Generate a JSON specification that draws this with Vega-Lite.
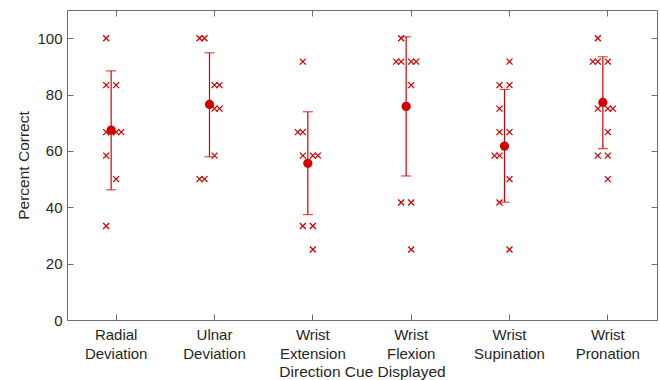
{
  "$schema": "https://vega.github.io/schema/vega-lite/v6.json",
  "width": 590,
  "height": 310,
  "autosize": {"type": "none"},
  "padding": {"left": 67, "top": 10, "right": 3, "bottom": 60},
  "config": {
    "font": "Liberation Sans",
    "view": {"stroke": null},
    "axis": {
      "domainColor": "#6e6e6e",
      "tickColor": "#6e6e6e",
      "labelColor": "#262626",
      "titleColor": "#262626",
      "labelFontSize": 15,
      "titleFontSize": 15.5,
      "titleFontWeight": "normal",
      "grid": false
    }
  },
  "datasets": {
    "pts": [
      {"cue": "Radial Deviation", "pct": 100, "j": -1},
      {"cue": "Radial Deviation", "pct": 83.33, "j": -1},
      {"cue": "Radial Deviation", "pct": 83.33, "j": 1},
      {"cue": "Radial Deviation", "pct": 66.67, "j": -1},
      {"cue": "Radial Deviation", "pct": 66.67, "j": 0},
      {"cue": "Radial Deviation", "pct": 66.67, "j": 1},
      {"cue": "Radial Deviation", "pct": 66.67, "j": 2},
      {"cue": "Radial Deviation", "pct": 58.33, "j": -1},
      {"cue": "Radial Deviation", "pct": 50, "j": 1},
      {"cue": "Radial Deviation", "pct": 33.33, "j": -1},
      {"cue": "Ulnar Deviation", "pct": 100, "j": -2},
      {"cue": "Ulnar Deviation", "pct": 100, "j": -1},
      {"cue": "Ulnar Deviation", "pct": 83.33, "j": 1},
      {"cue": "Ulnar Deviation", "pct": 83.33, "j": 2},
      {"cue": "Ulnar Deviation", "pct": 75, "j": 1},
      {"cue": "Ulnar Deviation", "pct": 75, "j": 2},
      {"cue": "Ulnar Deviation", "pct": 58.33, "j": 1},
      {"cue": "Ulnar Deviation", "pct": 50, "j": -2},
      {"cue": "Ulnar Deviation", "pct": 50, "j": -1},
      {"cue": "Wrist Extension", "pct": 91.67, "j": -1},
      {"cue": "Wrist Extension", "pct": 66.67, "j": -2},
      {"cue": "Wrist Extension", "pct": 66.67, "j": -1},
      {"cue": "Wrist Extension", "pct": 58.33, "j": -1},
      {"cue": "Wrist Extension", "pct": 58.33, "j": 1},
      {"cue": "Wrist Extension", "pct": 58.33, "j": 2},
      {"cue": "Wrist Extension", "pct": 33.33, "j": -1},
      {"cue": "Wrist Extension", "pct": 33.33, "j": 1},
      {"cue": "Wrist Extension", "pct": 25, "j": 1},
      {"cue": "Wrist Flexion", "pct": 100, "j": -1},
      {"cue": "Wrist Flexion", "pct": 91.67, "j": -2},
      {"cue": "Wrist Flexion", "pct": 91.67, "j": -1},
      {"cue": "Wrist Flexion", "pct": 91.67, "j": 1},
      {"cue": "Wrist Flexion", "pct": 91.67, "j": 2},
      {"cue": "Wrist Flexion", "pct": 83.33, "j": 1},
      {"cue": "Wrist Flexion", "pct": 41.67, "j": -1},
      {"cue": "Wrist Flexion", "pct": 41.67, "j": 1},
      {"cue": "Wrist Flexion", "pct": 25, "j": 1},
      {"cue": "Wrist Supination", "pct": 91.67, "j": 1},
      {"cue": "Wrist Supination", "pct": 83.33, "j": -1},
      {"cue": "Wrist Supination", "pct": 83.33, "j": 1},
      {"cue": "Wrist Supination", "pct": 75, "j": -1},
      {"cue": "Wrist Supination", "pct": 66.67, "j": -1},
      {"cue": "Wrist Supination", "pct": 66.67, "j": 1},
      {"cue": "Wrist Supination", "pct": 58.33, "j": -2},
      {"cue": "Wrist Supination", "pct": 58.33, "j": -1},
      {"cue": "Wrist Supination", "pct": 50, "j": 1},
      {"cue": "Wrist Supination", "pct": 41.67, "j": -1},
      {"cue": "Wrist Supination", "pct": 25, "j": 1},
      {"cue": "Wrist Pronation", "pct": 100, "j": -1},
      {"cue": "Wrist Pronation", "pct": 91.67, "j": -2},
      {"cue": "Wrist Pronation", "pct": 91.67, "j": -1},
      {"cue": "Wrist Pronation", "pct": 91.67, "j": 1},
      {"cue": "Wrist Pronation", "pct": 75, "j": -1},
      {"cue": "Wrist Pronation", "pct": 75, "j": 1},
      {"cue": "Wrist Pronation", "pct": 75, "j": 2},
      {"cue": "Wrist Pronation", "pct": 66.67, "j": 1},
      {"cue": "Wrist Pronation", "pct": 58.33, "j": -1},
      {"cue": "Wrist Pronation", "pct": 58.33, "j": 1},
      {"cue": "Wrist Pronation", "pct": 50, "j": 1}
    ],
    "summary": [
      {"cue": "Radial Deviation", "mean": 67.4, "lo": 46.2, "hi": 88.4, "j": 0},
      {"cue": "Ulnar Deviation", "mean": 76.5, "lo": 57.9, "hi": 94.8, "j": 0},
      {"cue": "Wrist Extension", "mean": 55.6, "lo": 37.4, "hi": 73.9, "j": 0},
      {"cue": "Wrist Flexion", "mean": 75.8, "lo": 51.1, "hi": 100.5, "j": 0},
      {"cue": "Wrist Supination", "mean": 61.7, "lo": 41.8, "hi": 81.8, "j": 0},
      {"cue": "Wrist Pronation", "mean": 77.2, "lo": 60.8, "hi": 93.4, "j": 0}
    ]
  },
  "resolve": {"axis": {"x": "independent", "y": "independent"}},
  "layer": [
    {
      "data": {"name": "pts"},
      "mark": {"type": "point", "shape": "M-1,-1L1,1M1,-1L-1,1", "filled": false, "strokeWidth": 1.3, "size": 36, "color": "#d10000", "opacity": 1},
      "encoding": {
        "x": {"field": "cue", "type": "nominal",
          "scale": {"type": "band", "domain": ["Radial Deviation", "Ulnar Deviation", "Wrist Extension", "Wrist Flexion", "Wrist Supination", "Wrist Pronation"], "paddingInner": 0, "paddingOuter": 0},
          "axis": {"orient": "bottom", "title": "Direction Cue Displayed", "labelExpr": "split(datum.label, ' ')", "labelAngle": 0, "tickSize": -6, "labelPadding": 13, "labelLineHeight": 19, "titlePadding": 3}},
        "xOffset": {"field": "j", "type": "quantitative", "scale": {"domain": [-8.83, 10.83], "range": [0, 98.33]}},
        "y": {"field": "pct", "type": "quantitative", "scale": {"domain": [0, 110], "nice": false},
          "axis": {"orient": "left", "title": "Percent Correct", "values": [0, 20, 40, 60, 80, 100], "tickSize": -6, "labelPadding": 11, "titlePadding": 5}}
      }
    },
    {
      "data": {"name": "summary"},
      "mark": {"type": "rule", "color": "#d10000", "strokeWidth": 1.2},
      "encoding": {
        "x": {"field": "cue", "type": "nominal", "axis": null,
          "scale": {"type": "band", "domain": ["Radial Deviation", "Ulnar Deviation", "Wrist Extension", "Wrist Flexion", "Wrist Supination", "Wrist Pronation"], "paddingInner": 0, "paddingOuter": 0}},
        "xOffset": {"field": "j", "type": "quantitative", "scale": {"domain": [-8.83, 10.83], "range": [0, 98.33]}},
        "y": {"field": "lo", "type": "quantitative", "axis": null},
        "y2": {"field": "hi"}
      }
    },
    {
      "data": {"name": "summary"},
      "mark": {"type": "tick", "color": "#d10000", "thickness": 1.2, "size": 10, "orient": "horizontal"},
      "encoding": {
        "x": {"field": "cue", "type": "nominal", "axis": null,
          "scale": {"type": "band", "domain": ["Radial Deviation", "Ulnar Deviation", "Wrist Extension", "Wrist Flexion", "Wrist Supination", "Wrist Pronation"], "paddingInner": 0, "paddingOuter": 0}},
        "xOffset": {"field": "j", "type": "quantitative", "scale": {"domain": [-8.83, 10.83], "range": [0, 98.33]}},
        "y": {"field": "lo", "type": "quantitative", "axis": null}
      }
    },
    {
      "data": {"name": "summary"},
      "mark": {"type": "tick", "color": "#d10000", "thickness": 1.2, "size": 10, "orient": "horizontal"},
      "encoding": {
        "x": {"field": "cue", "type": "nominal", "axis": null,
          "scale": {"type": "band", "domain": ["Radial Deviation", "Ulnar Deviation", "Wrist Extension", "Wrist Flexion", "Wrist Supination", "Wrist Pronation"], "paddingInner": 0, "paddingOuter": 0}},
        "xOffset": {"field": "j", "type": "quantitative", "scale": {"domain": [-8.83, 10.83], "range": [0, 98.33]}},
        "y": {"field": "hi", "type": "quantitative", "axis": null}
      }
    },
    {
      "data": {"name": "summary"},
      "mark": {"type": "circle", "color": "#d10000", "size": 85, "opacity": 1},
      "encoding": {
        "x": {"field": "cue", "type": "nominal",
          "scale": {"type": "band", "domain": ["Radial Deviation", "Ulnar Deviation", "Wrist Extension", "Wrist Flexion", "Wrist Supination", "Wrist Pronation"], "paddingInner": 0, "paddingOuter": 0},
          "axis": {"orient": "top", "title": null, "labels": false, "tickSize": -6}},
        "xOffset": {"field": "j", "type": "quantitative", "scale": {"domain": [-8.83, 10.83], "range": [0, 98.33]}},
        "y": {"field": "mean", "type": "quantitative",
          "axis": {"orient": "right", "title": null, "labels": false, "values": [0, 20, 40, 60, 80, 100], "tickSize": -6}}
      }
    }
  ]
}
